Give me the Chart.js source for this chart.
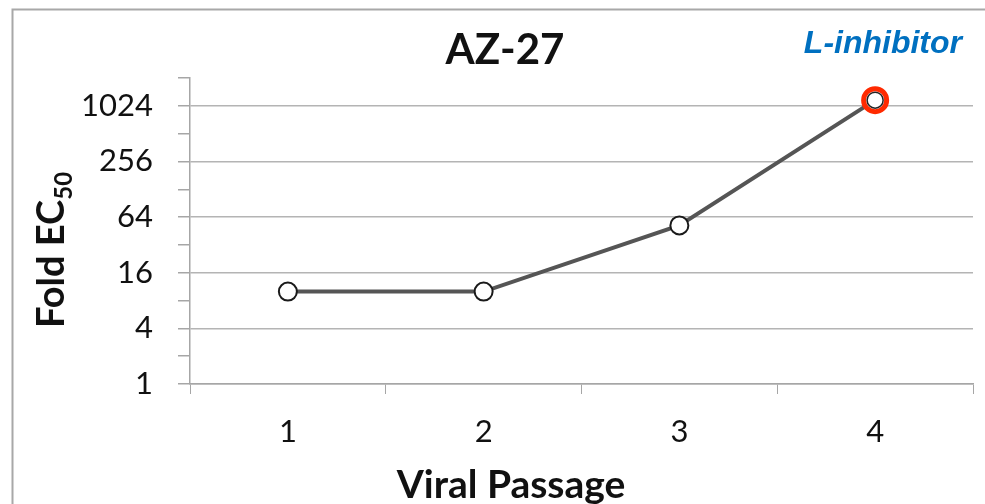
<!DOCTYPE html>
<html>
<head>
<meta charset="utf-8">
<script src="https://cdn.jsdelivr.net/npm/chart.js@4/dist/chart.umd.min.js"></script>
<style>
  html, body { margin: 0; padding: 0; background: #ffffff; }
  #wrap { width: 985px; height: 504px; position: relative; }
</style>
</head>
<body>
<div id="wrap"><canvas id="c" width="985" height="504"></canvas></div>
<script>
// ---- data ----
const passages = ['1', '2', '3', '4'];
const foldEC50 = [10, 10, 52, 1180];
const yTickValues = [1, 2, 4, 8, 16, 32, 64, 128, 256, 512, 1024, 2048];
const yLabeledTicks = [1, 4, 16, 64, 256, 1024];
const chartTitle = 'AZ-27';
const cornerLabel = 'L-inhibitor';
const xTitle = 'Viral Passage';
const yTitleMain = 'Fold EC';
const yTitleSub = '50';

const FONT = 'Lato, "Open Sans", sans-serif';

const decorPlugin = {
  id: 'decor',
  beforeDraw(chart) {
    const ctx = chart.ctx;
    ctx.save();
    ctx.strokeStyle = '#a8a8a8';
    ctx.lineWidth = 2;
    ctx.strokeRect(12.5, 9.5, 1000, 600);
    ctx.restore();
  },
  afterDraw(chart) {
    const ctx = chart.ctx;
    ctx.save();
    // main title
    ctx.fillStyle = '#111111';
    ctx.font = 'bold 42px ' + FONT;
    ctx.textAlign = 'center';
    ctx.textBaseline = 'middle';
    ctx.fillText(chartTitle, 505, 50);
    // x-axis title
    ctx.font = 'bold 39px ' + FONT;
    ctx.fillText(xTitle, 511, 485);
    // corner label
    ctx.fillStyle = '#0070C0';
    ctx.font = 'italic bold 32px "Liberation Sans", Arial, sans-serif';
    ctx.textAlign = 'right';
    ctx.fillText(cornerLabel, 962, 44);
    // y-axis title with subscript
    ctx.translate(50, 250);
    ctx.rotate(-Math.PI / 2);
    ctx.fillStyle = '#111111';
    const mainFont = 'bold 38px ' + FONT;
    const subFont = 'bold 24px ' + FONT;
    ctx.font = mainFont;
    const w1 = ctx.measureText(yTitleMain).width;
    ctx.font = subFont;
    const w2 = ctx.measureText(yTitleSub).width;
    const start = -(w1 + w2) / 2;
    ctx.textAlign = 'left';
    ctx.textBaseline = 'alphabetic';
    ctx.font = mainFont;
    ctx.fillText(yTitleMain, start, 14);
    ctx.font = subFont;
    ctx.fillText(yTitleSub, start + w1, 22);
    ctx.restore();
  },
  afterDatasetsDraw(chart) {
    const meta = chart.getDatasetMeta(0);
    const last = meta.data[meta.data.length - 1];
    if (!last) return;
    const ctx = chart.ctx;
    ctx.save();
    ctx.strokeStyle = '#222222';
    ctx.lineWidth = 1.5;
    ctx.beginPath();
    ctx.arc(last.x, last.y, 8, 0, Math.PI * 2);
    ctx.stroke();
    ctx.restore();
  }
};

new Chart(document.getElementById('c'), {
  type: 'line',
  data: {
    labels: passages,
    datasets: [{
      data: foldEC50,
      borderColor: '#555555',
      borderWidth: 4,
      tension: 0,
      clip: false,
      pointBackgroundColor: '#ffffff',
      pointBorderColor: ['#1a1a1a', '#1a1a1a', '#1a1a1a', '#ff2a00'],
      pointBorderWidth: [2, 2, 2, 5],
      pointRadius: [9, 9, 9, 11.5],
      pointHoverRadius: [9, 9, 9, 11.5]
    }]
  },
  options: {
    responsive: false,
    animation: false,
    devicePixelRatio: 1,
    layout: { autoPadding: false, padding: { top: 78, right: 12, left: 0, bottom: 0 } },
    plugins: {
      legend: { display: false },
      title: { display: false },
      tooltip: { enabled: false }
    },
    scales: {
      x: {
        type: 'category',
        offset: true,
        afterFit(scale) {
          scale.height = 120;
          scale.paddingLeft = 0;
          scale.paddingRight = 0;
        },
        grid: {
          offset: true,
          drawOnChartArea: false,
          drawTicks: true,
          tickLength: 10,
          tickColor: '#a6a6a6',
          color: '#a6a6a6'
        },
        border: { color: '#a6a6a6', width: 1.5 },
        ticks: {
          color: '#111111',
          font: { family: FONT, size: 31 },
          padding: 19
        }
      },
      y: {
        type: 'logarithmic',
        min: 1,
        max: 2048,
        afterFit(scale) {
          scale.width = 190;
          scale.paddingTop = 0;
          scale.paddingBottom = 0;
        },
        afterBuildTicks(scale) {
          scale.ticks = yTickValues.map(v => ({ value: v }));
        },
        grid: {
          color: (ctx) => (ctx.tick && yLabeledTicks.includes(ctx.tick.value)) ? '#b4b4b4' : 'rgba(0,0,0,0)',
          lineWidth: 1.5,
          tickColor: '#a6a6a6',
          tickLength: 12
        },
        border: { color: '#a6a6a6', width: 1.5 },
        ticks: {
          autoSkip: false,
          color: '#111111',
          font: { family: FONT, size: 31 },
          padding: 25,
          callback: (v) => yLabeledTicks.includes(v) ? String(v) : ''
        }
      }
    }
  },
  plugins: [decorPlugin]
});
</script>
</body>
</html>
